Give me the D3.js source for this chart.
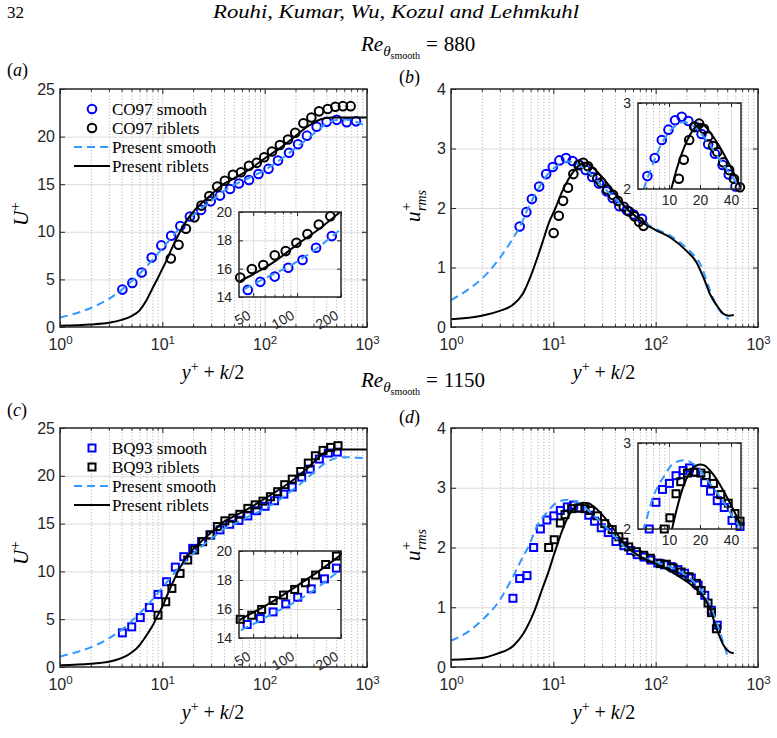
<!DOCTYPE html>
<html>
<head>
<meta charset="utf-8">
<script src="https://cdn.jsdelivr.net/npm/d3@7"></script>
<style>
  body { margin: 0; background: #fff; }
  svg { display: block; }
</style>
</head>
<body>
<svg id="fig" width="777" height="738"></svg>
<script>
// ---------- data: [y+ + k/2, value] ----------
// Re_theta = 880, mean velocity (a)
var co97SmoothU = [[4.07,3.93],[5.09,4.63],[6.28,5.72],[7.87,7.30],[9.78,8.57],[12.2,9.58],[15.0,10.6],[18.6,11.6],[23.9,12.3],[29.7,13.2],[36.6,13.8],[45.9,14.5],[56.0,15.07],[70.3,15.44],[87.0,16.07],[109,16.61],[135,17.48],[173,18.30],[212,19.2],[259,20.1],[322,21.03],[403,21.55],[506,21.76],[633,21.5],[781,21.6]];
var co97RibletsU = [[12.1,7.20],[14.4,8.64],[17.0,10.32],[20.6,11.52],[24.1,12.75],[28.8,13.76],[34.4,14.75],[40.8,15.37],[49.0,15.98],[58.7,16.26],[70.3,16.94],[83.6,17.24],[99.0,17.83],[117.8,18.44],[140.8,19.12],[169,19.70],[199,20.4],[239,21.4],[286,22.0],[340,22.65],[413,22.9],[491,23.14],[582,23.2],[692,23.2]];
var presentSmoothA = [[1,1.0],[1.5,1.5],[2,2.0],[3,2.95],[4,3.9],[5,4.8],[6,5.6],[7,6.35],[8,7.05],[10,8.25],[12,9.25],[15,10.45],[20,11.75],[25,12.6],[30,13.25],[40,14.3],[50,14.9],[70,15.65],[100,16.5],[150,17.75],[200,18.8],[250,19.6],[300,20.3],[350,20.9],[400,21.35],[450,21.6],[500,21.75],[600,21.8],[700,21.7],[800,21.5],[1000,21.05]];
var presentRibletsA = [[1,0.14],[2,0.27],[3,0.45],[4,0.75],[5,1.15],[6,1.75],[7,2.8],[8,4.05],[9,5.1],[10,6.1],[11,7.0],[12.8,8.6],[14.9,10.0],[17.3,11.2],[20,12.1],[23.3,12.85],[30,13.9],[35,14.55],[40,15.05],[50,15.6],[70,16.5],[100,17.7],[150,19.0],[200,20.05],[250,20.9],[300,21.45],[350,21.8],[400,21.95],[450,22.0],[1000,22.0]];

// Re_theta = 880, streamwise rms (b)
var co97SmoothRms = [[4.69,1.69],[5.45,1.93],[6.17,2.15],[7.27,2.36],[8.51,2.57],[9.88,2.69],[11.46,2.80],[13.3,2.84],[15.4,2.79],[17.8,2.73],[20.7,2.64],[24.0,2.52],[27.9,2.41],[33.1,2.28],[38.0,2.17],[44.2,2.03],[52.5,1.96],[61,1.89],[73.5,1.82]];
var co97RibletsRms = [[10.07,1.58],[11.3,1.87],[12.45,2.12],[13.9,2.34],[15.7,2.57],[17.6,2.72],[19.6,2.76],[21.8,2.70],[24.0,2.61],[26.8,2.50],[29.4,2.43],[33.6,2.31],[38.4,2.22],[42.7,2.12],[48.8,2.02],[55,1.94],[62,1.86],[69,1.77],[76,1.70]];
var presentSmoothB = [[1,0.45],[1.5,0.64],[2,0.81],[3,1.16],[4,1.48],[5,1.78],[5.6,1.98],[6.2,2.13],[7.3,2.35],[8.5,2.53],[10,2.66],[12,2.75],[14,2.78],[16,2.76],[20,2.66],[25,2.51],[30,2.37],[40,2.16],[50,2.0],[70,1.8],[100,1.65],[140,1.53],[200,1.33],[235,1.21],[280,1.02],[320,0.74],[360,0.5],[400,0.34],[450,0.22],[517,0.13]];
var presentRibletsB = [[1,0.13],[2,0.19],[3,0.27],[4,0.37],[5,0.55],[6,0.85],[7,1.17],[8,1.47],[9,1.74],[10.5,2.0],[12,2.25],[14,2.48],[16,2.63],[18,2.72],[20,2.76],[22,2.74],[25,2.66],[30,2.52],[40,2.25],[50,2.02],[60,1.9],[80,1.72],[100,1.63],[140,1.5],[200,1.28],[250,1.09],[295,0.82],[340,0.55],[400,0.35],[460,0.22],[520,0.19],[580,0.2]];

// Re_theta = 1150, mean velocity (c)
var bq93SmoothU = [[4.07,3.57],[5.02,4.20],[6.09,5.17],[7.46,6.22],[9.07,7.59],[11.0,8.92],[13.4,10.45],[16.2,11.54],[19.8,12.41],[24.2,13.11],[29.7,13.81],[36.6,14.34],[45.5,14.93],[56.0,15.34],[68.5,15.80],[83.6,16.35],[101,16.81],[125,17.39],[154,18.08],[186,18.82],[230,19.86],[279,20.7],[342,21.75],[419,22.38],[513,22.48]];
var bq93RibletsU = [[9.07,5.42],[10.8,6.82],[12.4,8.22],[14.9,9.79],[17.7,11.19],[20.7,12.24],[24.8,13.11],[29.2,13.81],[34.5,14.69],[40.8,15.29],[48.9,15.57],[57.2,15.97],[68.5,16.59],[80.8,16.96],[96.3,17.35],[114,17.81],[134,18.34],[157,19.07],[186,19.65],[225,20.45],[267,21.33],[313,22.1],[372,22.66],[442,22.97],[521,23.15]];
var presentSmoothC = [[1,1.1],[1.5,1.6],[2,2.05],[3,3.0],[4,3.9],[5,4.8],[6,5.6],[7,6.35],[8,7.05],[10,8.3],[12,9.35],[15,10.55],[20,11.85],[25,12.75],[30,13.4],[40,14.45],[50,14.95],[70,15.75],[100,16.55],[150,17.75],[200,18.75],[250,19.6],[300,20.35],[350,20.95],[400,21.4],[500,21.85],[600,21.95],[800,21.9],[1000,21.85]];
var presentRibletsC = [[1,0.17],[2,0.33],[2.46,0.42],[3,0.55],[3.86,0.87],[4.5,1.2],[5.2,1.64],[6,2.3],[6.5,2.8],[7.3,3.6],[8.2,4.5],[9,5.4],[10,6.3],[11,7.35],[11.9,8.2],[13,9.1],[14.9,10.4],[16.5,11.2],[18.6,11.95],[23.3,13.0],[31.5,14.25],[40,15.2],[50,15.75],[70,16.6],[100,17.6],[150,18.8],[200,19.75],[250,20.6],[300,21.4],[350,22.1],[400,22.5],[450,22.7],[500,22.75],[1000,22.75]];

// Re_theta = 1150, streamwise rms (d)
var bq93SmoothRms = [[4.03,1.15],[4.69,1.48],[5.53,1.53],[6.42,2.0],[7.47,2.31],[8.65,2.46],[10.1,2.53],[11.7,2.62],[13.7,2.68],[15.8,2.71],[18.2,2.66],[22.2,2.54],[25.3,2.44],[29.4,2.33],[34.4,2.25],[40.9,2.10],[48.9,2.03],[57,1.95],[66,1.88],[77,1.84],[90,1.79],[105,1.74],[122,1.71],[142,1.68],[165,1.63],[192,1.57],[223,1.49],[260,1.37],[302,1.2],[350,0.95],[400,0.7]];
var bq93RibletsRms = [[9.0,2.0],[10.2,2.13],[11.7,2.41],[13.0,2.55],[15.1,2.65],[17.5,2.66],[20.4,2.65],[23.0,2.62],[27.0,2.53],[31.8,2.40],[37.6,2.30],[43.7,2.18],[48.9,2.09],[54.5,2.01],[64.8,1.93],[76.3,1.87],[88.7,1.82],[111,1.73],[127,1.72],[148,1.66],[177,1.59],[212,1.51],[250,1.40],[278,1.28],[325,1.07],[351,0.91],[392,0.64]];
var presentSmoothD = [[1,0.44],[1.5,0.6],[2,0.78],[3,1.12],[4,1.5],[5,1.83],[5.66,2.0],[7,2.37],[8.8,2.6],[11,2.76],[14,2.8],[18,2.74],[25,2.53],[34,2.31],[49,2.02],[70,1.85],[100,1.76],[150,1.65],[200,1.53],[250,1.38],[300,1.2],[350,0.98],[400,0.72],[450,0.45],[500,0.2]];
var presentRibletsD = [[1,0.12],[2,0.15],[2.8,0.22],[4.1,0.36],[5.1,0.56],[6.4,0.9],[8,1.36],[9,1.6],[10,1.85],[10.7,2.0],[12,2.25],[14,2.52],[16,2.66],[18,2.73],[20,2.75],[22,2.74],[25,2.68],[30,2.55],[35,2.41],[40,2.28],[50,2.05],[60,1.93],[80,1.8],[100,1.73],[160,1.54],[235,1.34],[295,1.17],[343,0.95],[398,0.62],[462,0.36],[520,0.26],[580,0.23]];

// ticks and labels
var decadeTicks = [1, 10, 100, 1000];
var uTicks = [0, 5, 10, 15, 20, 25];
var rmsTicks = [0, 1, 2, 3, 4];
var insetUTicksX = [50, 100, 200];
var insetUTicksY = [14, 16, 18, 20];
var insetRmsTicksX = [10, 20, 40];
var insetRmsTicksY = [2, 3];
var legendTop = ["CO97 smooth", "CO97 riblets", "Present smooth", "Present riblets"];
var legendBottom = ["BQ93 smooth", "BQ93 riblets", "Present smooth", "Present riblets"];

// ---------- drawing ----------
var fSans = "'Liberation Sans', Arial, Helvetica, sans-serif",
    fSerif = "'Liberation Serif', 'Times New Roman', serif",
    ink = "#262626",
    blue = "#0000ff",
    lightBlue = "#3399ff";

var svg = d3.select("#fig");
var clipCount = 0;

function minorLog(lo, hi, majors) {
    var out = [];
    for (var e = Math.floor(Math.log10(lo)); e <= Math.ceil(Math.log10(hi)); e++) {
        for (var m = 2; m < 10; m++) {
            var v = m * Math.pow(10, e);
            if (v > lo * 1.0001 && v < hi * 0.9999 &&
                !majors.some(t => Math.abs(t - v) < 1e-6 * v)) out.push(v);
        }
    }
    return out;
}

function tidy(s) {
    s.select(".domain").remove();
    s.style("color", ink);
}

// background, grid, data clip; returns clip id
function drawGrid(g, x, y, xTicks, yTicks) {
    var x0 = x.range()[0], x1 = x.range()[1],
        yb = y.range()[0], yt = y.range()[1];
    var w = x1 - x0, h = yb - yt;
    var dx = x.domain(), dy = y.domain();

    g.append("rect")
        .attr("x", x0).attr("y", yt).attr("width", w).attr("height", h)
        .attr("fill", "#fff");

    g.append("g")
        .attr("transform", "translate(0," + yb + ")")
        .call(d3.axisBottom(x).tickValues(minorLog(dx[0], dx[1], xTicks)).tickSize(-h).tickFormat(""))
        .call(s => s.select(".domain").remove())
        .selectAll("line")
            .attr("stroke", "#a9a9a9")
            .attr("stroke-dasharray", "1,2.2");

    g.append("g")
        .attr("transform", "translate(0," + yb + ")")
        .call(d3.axisBottom(x).tickValues(xTicks.filter(t => t > dx[0] && t < dx[1])).tickSize(-h).tickFormat(""))
        .call(s => s.select(".domain").remove())
        .selectAll("line").attr("stroke", "#dcdcdc");

    g.append("g")
        .attr("transform", "translate(" + x0 + ",0)")
        .call(d3.axisLeft(y).tickValues(yTicks.filter(t => t > dy[0] && t < dy[1])).tickSize(-w).tickFormat(""))
        .call(s => s.select(".domain").remove())
        .selectAll("line").attr("stroke", "#dcdcdc");

    var id = "clip" + (clipCount++);
    svg.append("clipPath").attr("id", id)
        .append("rect")
            .attr("x", x0).attr("y", yt).attr("width", w).attr("height", h);
    return id;
}

function drawFrame(g, x, y, cfg) {
    var x0 = x.range()[0], x1 = x.range()[1],
        yb = y.range()[0], yt = y.range()[1];
    var dx = x.domain();
    var minor = minorLog(dx[0], dx[1], cfg.xTicks);

    var bottom = g.append("g")
        .attr("transform", "translate(0," + yb + ")")
        .call(d3.axisBottom(x).tickValues(cfg.xTicks).tickSize(-cfg.tick)
                .tickPadding(cfg.xPad).tickFormat(cfg.xFormat))
        .call(tidy)
        .attr("font-family", fSans).attr("font-size", cfg.fs);
    if (cfg.decades) {
        bottom.selectAll("text").each(function (d) {
            d3.select(this).append("tspan")
                .attr("dy", "-0.55em")
                .attr("font-size", cfg.fs * 0.72)
                .text(Math.round(Math.log10(d)));
        });
    }
    if (cfg.rotate) {
        bottom.selectAll("text")
            .attr("text-anchor", "end")
            .attr("x", -2).attr("y", 21).attr("dy", 0)
            .attr("transform", "rotate(-30,-2,21)");
    }
    g.append("g")
        .attr("transform", "translate(0," + yb + ")")
        .call(d3.axisBottom(x).tickValues(minor).tickSize(-cfg.tick * 0.55).tickFormat(""))
        .call(tidy);
    g.append("g")
        .attr("transform", "translate(0," + yt + ")")
        .call(d3.axisTop(x).tickValues(cfg.xTicks).tickSize(-cfg.tick).tickFormat(""))
        .call(tidy);
    g.append("g")
        .attr("transform", "translate(0," + yt + ")")
        .call(d3.axisTop(x).tickValues(minor).tickSize(-cfg.tick * 0.55).tickFormat(""))
        .call(tidy);

    g.append("g")
        .attr("transform", "translate(" + x0 + ",0)")
        .call(d3.axisLeft(y).tickValues(cfg.yTicks).tickSize(-cfg.tick)
                .tickPadding(cfg.yPad).tickFormat(d3.format("d")))
        .call(tidy)
        .attr("font-family", fSans).attr("font-size", cfg.fs);
    g.append("g")
        .attr("transform", "translate(" + x1 + ",0)")
        .call(d3.axisRight(y).tickValues(cfg.yTicks).tickSize(-cfg.tick).tickFormat(""))
        .call(tidy);

    g.append("rect")
        .attr("x", x0).attr("y", yt).attr("width", x1 - x0).attr("height", yb - yt)
        .attr("fill", "none").attr("stroke", ink).attr("stroke-width", 1.5);
}

function drawSeries(g, x, y, series, clipId, onlyInside) {
    var dx = x.domain(), dy = y.domain();
    var inside = d => !onlyInside ||
        (d[0] >= dx[0] * 0.999 && d[0] <= dx[1] * 1.001 && d[1] >= dy[0] - 1e-6 && d[1] <= dy[1] + 1e-6);
    var line = d3.line()
        .x(d => x(d[0]))
        .y(d => y(d[1]))
        .curve(d3.curveMonotoneX);

    series.forEach(function (s) {
        if (s.kind === "circle") {
            g.append("g").selectAll("circle")
                .data(s.data.filter(inside))
                .join("circle")
                    .attr("cx", d => x(d[0]))
                    .attr("cy", d => y(d[1]))
                    .attr("r", 4.3)
                    .attr("fill", "none")
                    .attr("stroke", s.color)
                    .attr("stroke-width", 2);
        } else if (s.kind === "square") {
            g.append("g").selectAll("rect")
                .data(s.data.filter(inside))
                .join("rect")
                    .attr("x", d => x(d[0]) - 3.5)
                    .attr("y", d => y(d[1]) - 3.5)
                    .attr("width", 7).attr("height", 7)
                    .attr("fill", "none")
                    .attr("stroke", s.color)
                    .attr("stroke-width", 2);
        } else {
            g.append("path")
                .datum(s.data)
                .attr("clip-path", "url(#" + clipId + ")")
                .attr("d", line)
                .attr("fill", "none")
                .attr("stroke", s.color)
                .attr("stroke-width", 2)
                .attr("stroke-dasharray", s.kind === "dash" ? "8,5" : null);
        }
    });
}

function drawLegend(g, left, top, labels, series) {
    labels.forEach(function (label, i) {
        var ry = top + 20 + i * 19;
        var s = series[i];
        if (s.kind === "circle") {
            g.append("circle").attr("cx", 92).attr("cy", ry).attr("r", 4.3)
                .attr("fill", "none").attr("stroke", s.color).attr("stroke-width", 2);
        } else if (s.kind === "square") {
            g.append("rect").attr("x", 88.5).attr("y", ry - 3.5).attr("width", 7).attr("height", 7)
                .attr("fill", "none").attr("stroke", s.color).attr("stroke-width", 2);
        } else {
            g.append("line").attr("x1", 74).attr("x2", 110).attr("y1", ry).attr("y2", ry)
                .attr("stroke", s.color).attr("stroke-width", 2)
                .attr("stroke-dasharray", s.kind === "dash" ? "8,5" : null);
        }
        g.append("text")
            .attr("x", 112).attr("y", ry).attr("dy", "0.33em")
            .attr("font-family", fSerif).attr("font-size", 17)
            .attr("fill", "#000")
            .text(label);
    });
}

function drawPanel(p) {
    var g = svg.append("g");
    var x = d3.scaleLog().domain([1, 1000]).range([p.left, p.right]);
    var y = d3.scaleLinear().domain(p.yDomain).range([p.bottom, p.top]);

    var clip = drawGrid(g, x, y, decadeTicks, p.yTicks);
    drawSeries(g, x, y, p.series, clip, false);
    drawFrame(g, x, y, {
        xTicks: decadeTicks, yTicks: p.yTicks, tick: 5, fs: 16,
        xPad: 12, yPad: 5, xFormat: () => "10", decades: true
    });
    if (p.legend) drawLegend(g, p.left, p.top, p.legend, p.series);

    // inset
    var ins = p.inset;
    var gi = svg.append("g");
    var xi = d3.scaleLog().domain(ins.xDomain).range([ins.left, ins.right]);
    var yi = d3.scaleLinear().domain(ins.yDomain).range([ins.bottom, ins.top]);
    var clipI = drawGrid(gi, xi, yi, ins.xTicks, ins.yTicks);
    drawSeries(gi, xi, yi, p.series, clipI, true);
    drawFrame(gi, xi, yi, {
        xTicks: ins.xTicks, yTicks: ins.yTicks, tick: 4, fs: 14,
        xPad: 6, yPad: 7, xFormat: d => d, decades: false, rotate: ins.rotate
    });
}

function series4(a, b, c, d, shape) {
    return [
        { data: a, kind: shape, color: blue },
        { data: b, kind: shape, color: "#000" },
        { data: c, kind: "dash", color: lightBlue },
        { data: d, kind: "solid", color: "#000" }
    ];
}

var insetU = (top, bottom) => ({ left: 239, right: 341, top: top, bottom: bottom,
    xDomain: [40, 200], yDomain: [14, 20], xTicks: insetUTicksX, yTicks: insetUTicksY, rotate: true });
var insetRms = (top, bottom) => ({ left: 638, right: 741, top: top, bottom: bottom,
    xDomain: [5, 50], yDomain: [2, 3], xTicks: insetRmsTicksX, yTicks: insetRmsTicksY, rotate: false });

drawPanel({ left: 60, right: 367, top: 89, bottom: 327, yDomain: [0, 25], yTicks: uTicks,
    series: series4(co97SmoothU, co97RibletsU, presentSmoothA, presentRibletsA, "circle"),
    legend: legendTop, inset: insetU(212, 297) });
drawPanel({ left: 451, right: 758, top: 89, bottom: 327, yDomain: [0, 4], yTicks: rmsTicks,
    series: series4(co97SmoothRms, co97RibletsRms, presentSmoothB, presentRibletsB, "circle"),
    inset: insetRms(103, 189) });
drawPanel({ left: 60, right: 367, top: 428, bottom: 667, yDomain: [0, 25], yTicks: uTicks,
    series: series4(bq93SmoothU, bq93RibletsU, presentSmoothC, presentRibletsC, "square"),
    legend: legendBottom, inset: insetU(551, 638) });
drawPanel({ left: 451, right: 758, top: 428, bottom: 667, yDomain: [0, 4], yTicks: rmsTicks,
    series: series4(bq93SmoothRms, bq93RibletsRms, presentSmoothD, presentRibletsD, "square"),
    inset: insetRms(443, 529) });

// ---------- text ----------
var txt = svg.append("g").attr("font-family", fSerif).attr("fill", "#000");

txt.append("text").attr("x", 7).attr("y", 18).attr("font-size", 17).text("32");
txt.append("text").attr("x", 396).attr("y", 18).attr("font-size", 19)
    .attr("font-style", "italic").attr("text-anchor", "middle")
    .attr("textLength", 366).attr("lengthAdjust", "spacingAndGlyphs")
    .text("Rouhi, Kumar, Wu, Kozul and Lehmkuhl");

function reTitle(x0, y0, value) {
    var t = txt.append("text").attr("x", x0).attr("y", y0).attr("font-size", 21);
    t.append("tspan").attr("font-style", "italic").text("Re");
    t.append("tspan").attr("font-style", "italic").attr("font-size", 15).attr("dy", 5).text("θ");
    t.append("tspan").attr("font-size", 10).attr("dy", 3).text("smooth");
    t.append("tspan").attr("dy", -8).attr("dx", 6).text("=");
    t.append("tspan").attr("dx", 6).text(value);
}
reTitle(361, 51, "880");
reTitle(361, 387, "1150");

[["(a)", 7, 76], ["(b)", 399, 83], ["(c)", 7, 416], ["(d)", 399, 423]].forEach(function (l) {
    var t = txt.append("text").attr("x", l[1]).attr("y", l[2]).attr("font-size", 18);
    t.append("tspan").text("(");
    t.append("tspan").attr("font-style", "italic").text(l[0][1]);
    t.append("tspan").text(")");
});

function xLabel(cx, by) {
    var t = txt.append("text").attr("x", cx).attr("y", by).attr("font-size", 20)
        .attr("text-anchor", "middle");
    t.append("tspan").attr("font-style", "italic").text("y");
    t.append("tspan").attr("font-size", 14).attr("dy", -8).text("+");
    t.append("tspan").attr("dy", 8).text(" + ");
    t.append("tspan").attr("font-style", "italic").text("k");
    t.append("tspan").text("/2");
}
xLabel(213, 379); xLabel(604, 379);
xLabel(213, 719); xLabel(604, 719);

function uLabel(cx, cy) {
    var g = txt.append("g").attr("transform", "translate(" + cx + "," + cy + ") rotate(-90)");
    var t = g.append("text").attr("x", -12).attr("y", 0).attr("font-size", 21);
    t.append("tspan").attr("font-style", "italic").text("U");
    t.append("tspan").attr("font-size", 15).attr("dy", -8).text("+");
}
uLabel(28, 214); uLabel(28, 553);

function rmsLabel(cx, cy) {
    var g = txt.append("g").attr("transform", "translate(" + cx + "," + cy + ") rotate(-90)");
    g.append("text").attr("x", -17).attr("y", 0).attr("font-size", 21)
        .attr("font-style", "italic").text("u");
    g.append("text").attr("x", -6).attr("y", -9).attr("font-size", 15).text("+");
    g.append("text").attr("x", -6).attr("y", 6).attr("font-size", 14)
        .attr("font-style", "italic").text("rms");
}
rmsLabel(420, 205); rmsLabel(420, 544);
</script>
</body>
</html>
